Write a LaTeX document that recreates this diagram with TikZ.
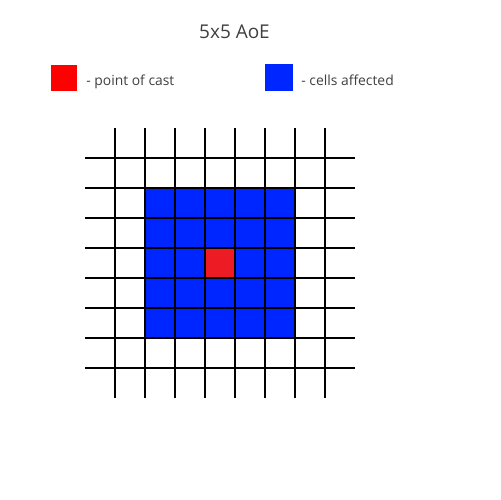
\documentclass[tikz,border=0pt]{standalone}
\usepackage{fontspec}
\setmainfont{Open Sans}
\definecolor{ink}{HTML}{404040}
\definecolor{castred}{HTML}{FF0000}
\definecolor{gridred}{HTML}{ED1C24}
\definecolor{aoeblue}{HTML}{0026FF}

\begin{document}
\begin{tikzpicture}[x=0.02cm,y=-0.02cm]
        \useasboundingbox (0,0) rectangle (500,500);
        \node[font=\fontsize{10.8}{13}\selectfont,color=ink,anchor=base,inner sep=0pt] (title) at (234.5,39) {5x5 AoE};
        % legend
        \fill[castred] (51,65) rectangle (77,91);
        \node[font=\fontsize{7.9}{10}\selectfont,color=ink,anchor=base west,inner sep=0pt] (castlbl) at (86,86) {- point of cast};
        \fill[aoeblue] (265,64) rectangle (292.5,91.5);
        \node[font=\fontsize{7.9}{10}\selectfont,color=ink,anchor=base west,inner sep=0pt] (celllbl) at (301,86) {- cells affected};
        % area and cast cell
        \fill[aoeblue] (145,188) rectangle (295,338);
        \fill[gridred] (205,248) rectangle (235,278);
        % grid
        \foreach \i in {0,...,7}{
          \draw[line width=0.75pt] (115+\i*30,128) -- (115+\i*30,398);
          \draw[line width=0.75pt] (85,158+\i*30) -- (355,158+\i*30);}
      \end{tikzpicture}
\end{document}
